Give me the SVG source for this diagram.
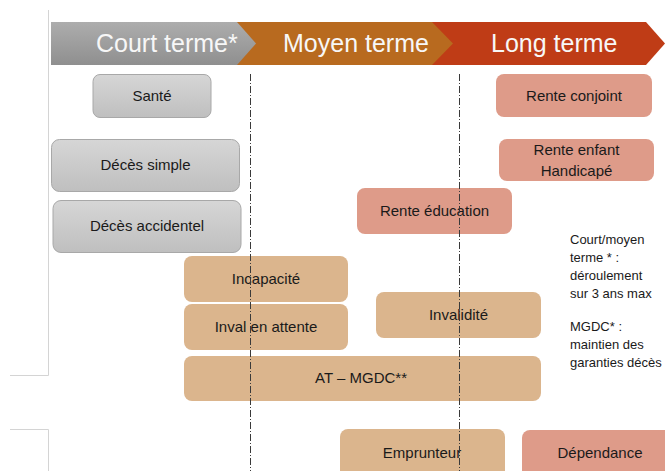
<svg xmlns="http://www.w3.org/2000/svg" width="665" height="471" viewBox="0 0 665 471">
  <defs>
    <linearGradient id="gHead" x1="0" y1="0" x2="0" y2="1">
      <stop offset="0" stop-color="#adadad"/>
      <stop offset="1" stop-color="#8f8f8f"/>
    </linearGradient>
    <linearGradient id="gBox" x1="0" y1="0" x2="0" y2="1">
      <stop offset="0" stop-color="#d6d6d6"/>
      <stop offset="1" stop-color="#bfbfbf"/>
    </linearGradient>
    <style>
      .hd { font-family: "Liberation Sans", Arial, sans-serif; font-size: 25px; fill: #f7f7f7; }
      .lb { font-family: "Liberation Sans", Arial, sans-serif; font-size: 15px; fill: #1a1a1a; text-anchor: middle; }
      .nt { font-family: "Liberation Sans", Arial, sans-serif; font-size: 13px; fill: #1a1a1a; }
      .gray { fill: url(#gBox); stroke: #a8a8a8; stroke-width: 1; }
      .red { fill: #de9b89; }
      .tan { fill: #dbb58d; }
      .frame { fill: none; stroke: #d4d4d4; stroke-width: 1; }
      .div { fill: none; stroke: #3a3a3a; stroke-width: 1; stroke-dasharray: 7 2 1 2; }
    </style>
  </defs>

  <rect width="665" height="471" fill="#ffffff"/>

  <!-- page frame lines on the left -->
  <path class="frame" d="M48.5 10 V375.5 H10"/>
  <path class="frame" d="M10 429.5 H48.5 V471"/>

  <!-- timeline header -->
  <g id="header">
    <polygon points="646,22 665,43.5 646,65 432,65 432,22" fill="#bf3c16"/>
    <polygon points="432,22 453,43.5 432,65 237,65 237,22" fill="#b86a1f"/>
    <polygon points="51,22 237,22 256,43.5 237,65 51,65" fill="url(#gHead)"/>
    <text class="hd" x="96" y="52">Court terme*</text>
    <text class="hd" x="283" y="52">Moyen terme</text>
    <text class="hd" x="491" y="52">Long terme</text>
  </g>

  <!-- short term -->
  <g id="sante">
    <rect class="gray" x="93" y="74.5" width="118" height="43" rx="7"/>
    <text class="lb" x="152" y="101">Santé</text>
  </g>
  <g id="deces-simple">
    <rect class="gray" x="51.5" y="139.5" width="188" height="52" rx="8"/>
    <text class="lb" x="145.5" y="170">Décès simple</text>
  </g>
  <g id="deces-accidentel">
    <rect class="gray" x="53" y="200.5" width="188" height="52" rx="8"/>
    <text class="lb" x="147" y="231">Décès accidentel</text>
  </g>

  <!-- long term annuities -->
  <g id="rente-conjoint">
    <rect class="red" x="496" y="74" width="156" height="43" rx="8"/>
    <text class="lb" x="574" y="101">Rente conjoint</text>
  </g>
  <g id="rente-enfant">
    <rect class="red" x="499" y="139" width="155" height="42" rx="8"/>
    <text class="lb" x="576.5" y="155">Rente enfant</text>
    <text class="lb" x="576.5" y="176">Handicapé</text>
  </g>
  <g id="rente-education">
    <rect class="red" x="357" y="188" width="155" height="46" rx="8"/>
    <text class="lb" x="434.5" y="216">Rente éducation</text>
  </g>

  <!-- work incapacity -->
  <g id="incapacite">
    <rect class="tan" x="184" y="256" width="164" height="46" rx="8"/>
    <text class="lb" x="266" y="284">Incapacité</text>
  </g>
  <g id="inval-attente">
    <rect class="tan" x="184" y="304" width="164" height="46" rx="8"/>
    <text class="lb" x="266" y="332">Inval en attente</text>
  </g>
  <g id="at-mgdc">
    <rect class="tan" x="184" y="356" width="357" height="45" rx="8"/>
    <text class="lb" x="361" y="383">AT – MGDC**</text>
  </g>
  <g id="invalidite">
    <rect class="tan" x="376" y="292" width="165" height="46" rx="8"/>
    <text class="lb" x="458.5" y="320">Invalidité</text>
  </g>
  <g id="emprunteur">
    <rect class="tan" x="340" y="429" width="165" height="60" rx="8"/>
    <text class="lb" x="422" y="457.5">Emprunteur</text>
  </g>
  <g id="dependance">
    <rect class="red" x="522" y="430" width="160" height="60" rx="8"/>
    <text class="lb" x="600" y="457.5">Dépendance</text>
  </g>

  <!-- notes -->
  <g id="notes">
    <text class="nt" x="570" y="244">Court/moyen</text>
    <text class="nt" x="570" y="262">terme * :</text>
    <text class="nt" x="570" y="280">déroulement</text>
    <text class="nt" x="570" y="298">sur 3 ans max</text>
    <text class="nt" x="570" y="331">MGDC* :</text>
    <text class="nt" x="570" y="349">maintien des</text>
    <text class="nt" x="570" y="367">garanties décès</text>
  </g>

  <!-- period boundaries -->
  <g id="connectors">
    <line class="div" x1="250.5" y1="74" x2="250.5" y2="471"/>
    <line class="div" x1="459.5" y1="74" x2="459.5" y2="471"/>
  </g>
</svg>
